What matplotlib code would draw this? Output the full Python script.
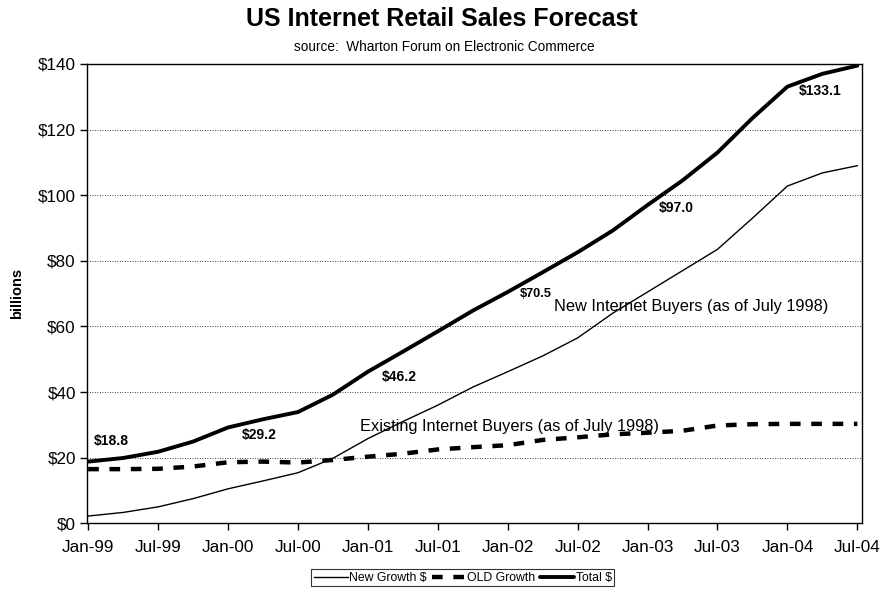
import matplotlib
matplotlib.use("Agg")
import matplotlib.pyplot as plt
import pandas as pd

# Quarterly forecast, Jan-99 .. Jul-04 (billions of dollars)
quarters = pd.date_range("1999-01-01", "2004-07-01", freq="QS-JAN")

new_growth = [2.2, 3.3, 5.0, 7.5, 10.5, 12.9, 15.4, 19.8, 25.8, 31.0, 36.0, 41.5,
              46.2, 51.0, 56.5, 64.0, 70.5, 77.0, 83.5, 93.0, 102.8, 106.8, 109.0]
old_growth = [16.5, 16.5, 16.6, 17.3, 18.6, 18.8, 18.5, 19.3, 20.3, 21.2, 22.5, 23.2,
              23.8, 25.4, 26.2, 27.1, 27.6, 28.2, 29.8, 30.2, 30.3, 30.3, 30.3]
total = [18.8, 19.9, 21.8, 24.9, 29.2, 31.7, 33.9, 39.2, 46.2, 52.3, 58.5, 64.8,
         70.5, 76.5, 82.6, 89.2, 97.0, 104.5, 113.0, 123.5, 133.1, 137.0, 139.5]

tick_labels = ["Jan-99", "Jul-99", "Jan-00", "Jul-00", "Jan-01", "Jul-01",
               "Jan-02", "Jul-02", "Jan-03", "Jul-03", "Jan-04", "Jul-04"]
y_ticks = [0, 20, 40, 60, 80, 100, 120, 140]

# value labels on the total line: (date, value, offset in pixels)
total_labels = [("1999-01-01", 18.8, (6, 21)),
                ("2000-01-01", 29.2, (14, -8)),
                ("2001-01-01", 46.2, (14, -5)),
                ("2002-01-01", 70.5, (12, -2)),
                ("2003-01-01", 97.0, (11, -3)),
                ("2004-01-01", 133.1, (11, -4))]


def month_index(d):
    d = pd.Timestamp(d)
    return (d.year - 1999) * 12 + d.month - 1


x = [month_index(d) for d in quarters]

plt.rcParams["font.family"] = ["Liberation Sans", "DejaVu Sans"]

fig = plt.figure(figsize=(8.83, 5.97), dpi=100)
ax = fig.add_axes([0.0985, 0.1235, 0.8777, 0.7693])

ax.plot(x, new_growth, color="black", lw=1.0, label="New Growth $")
ax.plot(x, old_growth, color="black", lw=3.2, linestyle=(0, (2.4, 2.4)),
        dash_capstyle="butt", label="OLD Growth")
ax.plot(x, total, color="black", lw=2.8, solid_capstyle="round",
        solid_joinstyle="round", label="Total $")

for d, v, (dx, dy) in total_labels:
    fs = 9.2 if v == 70.5 else 10
    ax.annotate(f"${v:.1f}", xy=(month_index(d), v), xytext=(dx, dy),
                textcoords="offset pixels", ha="left", va="center",
                fontsize=fs, fontweight="bold")

ax.text(month_index("2002-01-01") + 4.0, 66.0,
        "New Internet Buyers (as of July 1998)", fontsize=11.8,
        ha="left", va="center")
ax.text(month_index("2001-01-01") - 0.7, 29.5,
        "Existing Internet Buyers (as of July 1998)", fontsize=11.8,
        ha="left", va="center")

ax.set_xlim(-0.1, 66.4)
ax.set_ylim(0, 140)
ax.set_xticks(range(0, 67, 6))
ax.set_xticklabels(tick_labels)
ax.set_yticks(y_ticks)
ax.set_yticklabels([f"${t}" for t in y_ticks])
ax.tick_params(axis="both", direction="out", length=5, width=1,
               labelsize=12.3, colors="black")
ax.tick_params(axis="x", pad=7)
ax.tick_params(axis="y", pad=3)

for t in y_ticks[1:-1]:
    ax.axhline(t, color="black", lw=0.6, linestyle=(0, (1, 2)), zorder=0)

for s in ax.spines.values():
    s.set_color("black")
    s.set_linewidth(1.0)

ax.set_ylabel("billions", fontsize=10.5, fontweight="bold", labelpad=10)

fig.text(0.5, 0.968, "US Internet Retail Sales Forecast", ha="center",
         va="center", fontsize=18, fontweight="bold")
fig.text(0.503, 0.921, "source:  Wharton Forum on Electronic Commerce",
         ha="center", va="center", fontsize=9.8)

leg = fig.legend(loc="center", bbox_to_anchor=(0.524, 0.032), ncol=3,
                 fontsize=8.8, frameon=True, fancybox=False, handlelength=2.8,
                 handletextpad=0.1, columnspacing=0.4, borderpad=0.2,
                 borderaxespad=0)
leg.get_frame().set_edgecolor("black")
leg.get_frame().set_linewidth(0.8)

fig.savefig("out.png", dpi=100)
